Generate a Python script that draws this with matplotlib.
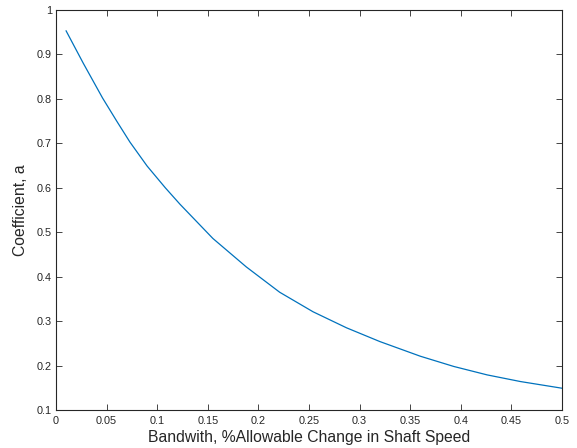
import matplotlib
matplotlib.use("Agg")
import matplotlib.pyplot as plt

bandwidth = [0.010, 0.027, 0.046, 0.060, 0.073, 0.090, 0.108, 0.1225, 0.155, 0.188, 0.221,
             0.254, 0.287, 0.320, 0.360, 0.393, 0.426, 0.459, 0.500]
coefficient = [0.953, 0.880, 0.802, 0.750, 0.703, 0.649, 0.600, 0.563, 0.486, 0.422, 0.365,
               0.321, 0.285, 0.254, 0.221, 0.198, 0.179, 0.164, 0.149]
xticks = [0, 0.05, 0.1, 0.15, 0.2, 0.25, 0.3, 0.35, 0.4, 0.45, 0.5]
xticklabels = ["0", "0.05", "0.1", "0.15", "0.2", "0.25", "0.3", "0.35", "0.4", "0.45", "0.5"]
yticks = [0.1, 0.2, 0.3, 0.4, 0.5, 0.6, 0.7, 0.8, 0.9, 1.0]
yticklabels = ["0.1", "0.2", "0.3", "0.4", "0.5", "0.6", "0.7", "0.8", "0.9", "1"]

plt.rcParams['font.family'] = ['Liberation Sans', 'DejaVu Sans']

fig = plt.figure(figsize=(5.77, 4.48), dpi=100)
ax = fig.add_axes([56/577, 1-410/448, (562-56)/577, 400/448])
ax.plot(bandwidth, coefficient, color='#0072BD', lw=0.9)
ax.set_xlim(0, 0.5)
ax.set_ylim(0.1, 1)
ax.set_xticks(xticks)
ax.set_xticklabels(xticklabels)
ax.set_yticks(yticks)
ax.set_yticklabels(yticklabels)
ax.tick_params(direction='in', top=True, right=True, length=4, width=0.6,
               labelsize=7.8, colors='#262626')
ax.tick_params(axis='x', pad=4)
ax.tick_params(axis='y', pad=3)
for s in ax.spines.values():
    s.set_color('#262626')
    s.set_linewidth(0.8)
ax.set_xlabel("Bandwith, %Allowable Change in Shaft Speed", fontsize=11.3, color='#262626', labelpad=3)
ax.set_ylabel("Coefficient, a", fontsize=11.3, color='#262626', labelpad=6)
fig.savefig("out.png", dpi=100)
